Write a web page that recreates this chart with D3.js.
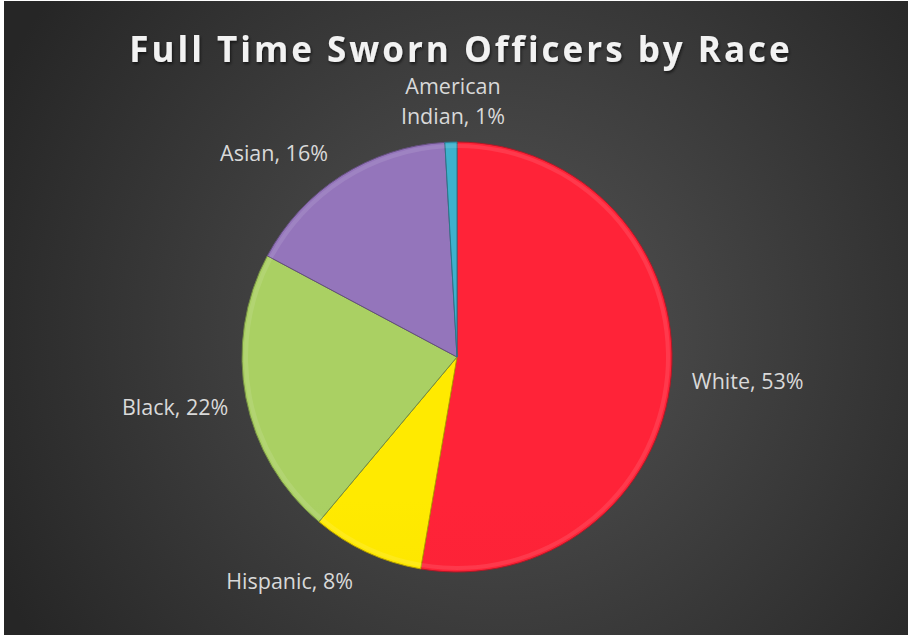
<!DOCTYPE html>
<html>
<head>
<meta charset="utf-8">
<script src="https://cdn.jsdelivr.net/npm/d3@7"></script>
<style>
  html, body { margin: 0; padding: 0; background: #fff; }
  svg { display: block; }
</style>
</head>
<body>
<svg id="chart" width="908" height="638"></svg>
<script>
// Chart data
const categories = ['White', 'Hispanic', 'Black', 'Asian', 'American Indian']
const shares = [52.7, 8.4, 21.7, 16.3, 0.9]
const labelText = ['White, 53%', 'Hispanic, 8%', 'Black, 22%', 'Asian, 16%', ['American', 'Indian, 1%']]
const sliceColors = ['#fd2236', '#ffe000', '#a3c75f', '#8e70b3', '#3aaac4']

// where each data label sits: angle (deg, clockwise from top), distance from centre, anchor
const labelPlacement = [
  { angle: 95.8, radius: 236, anchor: 'start' },
  { angle: 204.9, radius: 247, anchor: 'end' },
  { angle: 257.7, radius: 234, anchor: 'end' },
  { angle: 318.1, radius: 274, anchor: 'middle' },
  { angle: -0.9, radius: 256, anchor: 'middle' }
]

const width = 908
const height = 638
const cx = 457
const cy = 357
const radius = 215

const svg = d3.select('#chart')
const defs = svg.append('defs')

// background: dark with a soft lighter centre
const bg = defs.append('radialGradient')
  .attr('id', 'bg')
  .attr('gradientUnits', 'userSpaceOnUse')
  .attr('cx', 500).attr('cy', 330).attr('r', 560)
bg.append('stop').attr('offset', '0%').attr('stop-color', '#545454')
bg.append('stop').attr('offset', '100%').attr('stop-color', '#262626')

svg.append('rect')
  .attr('x', 4).attr('y', 1)
  .attr('width', width - 4).attr('height', height - 4)
  .attr('fill', 'url(#bg)')

// title shadow
const shadow = defs.append('filter').attr('id', 'shadow')
  .attr('x', '-10%').attr('y', '-30%').attr('width', '120%').attr('height', '160%')
shadow.append('feDropShadow')
  .attr('dx', 1).attr('dy', 2).attr('stdDeviation', 1.5)
  .attr('flood-color', '#000').attr('flood-opacity', 0.6)

svg.append('text')
  .attr('x', 461)
  .attr('y', 62)
  .attr('text-anchor', 'middle')
  .attr('font-family', 'Open Sans, sans-serif')
  .attr('font-weight', 'bold')
  .attr('font-size', 35)
  .attr('letter-spacing', 3)
  .attr('fill', '#f2f2f2')
  .attr('filter', 'url(#shadow)')
  .text('Full Time Sworn Officers by Race')

// a vertical gradient for each slice colour, a little lighter at the top
sliceColors.forEach(function (c, i) {
  const g = defs.append('linearGradient')
    .attr('id', 'slice' + i)
    .attr('gradientUnits', 'userSpaceOnUse')
    .attr('x1', 0).attr('y1', cy - radius)
    .attr('x2', 0).attr('y2', cy + radius)
  g.append('stop').attr('offset', '0%').attr('stop-color', d3.color(c).brighter(0.12))
  g.append('stop').attr('offset', '100%').attr('stop-color', d3.color(c).darker(0.12))
})

const pie = d3.pie().sort(null).value(function (d) { return d })
const arcs = pie(shares)

const arc = d3.arc().innerRadius(0).outerRadius(radius)
const rim = d3.arc().innerRadius(radius - 6).outerRadius(radius - 2)

const g = svg.append('g').attr('transform', 'translate(' + cx + ',' + cy + ')')

g.selectAll('path.slice')
  .data(arcs)
  .enter()
  .append('path')
  .attr('class', 'slice')
  .attr('d', arc)
  .attr('fill', function (d, i) { return 'url(#slice' + i + ')' })
  .attr('stroke', function (d, i) { return d3.color(sliceColors[i]).darker(1) })
  .attr('stroke-width', 1)
  .attr('stroke-linejoin', 'round')

// soft bevel highlight along the rim
g.selectAll('path.rim')
  .data(arcs)
  .enter()
  .append('path')
  .attr('class', 'rim')
  .attr('d', rim)
  .attr('fill', '#ffffff')
  .attr('opacity', 0.1)

// data labels
const fontSize = 21.5
const labels = svg.append('g')
  .attr('font-family', 'Open Sans, sans-serif')
  .attr('font-size', fontSize)
  .attr('fill', '#d9d9d9')

labelText.forEach(function (t, i) {
  const p = labelPlacement[i]
  const a = p.angle * Math.PI / 180
  const x = cx + p.radius * Math.sin(a)
  const y = cy - p.radius * Math.cos(a)
  const lines = Array.isArray(t) ? t : [t]
  const lineHeight = 30
  const text = labels.append('text')
    .attr('text-anchor', p.anchor)
    .attr('x', x)
    .attr('y', y - (lines.length - 1) * lineHeight / 2 + fontSize * 0.36)
  lines.forEach(function (line, k) {
    text.append('tspan')
      .attr('x', x)
      .attr('dy', k === 0 ? 0 : lineHeight)
      .text(line)
  })
})
</script>
</body>
</html>
